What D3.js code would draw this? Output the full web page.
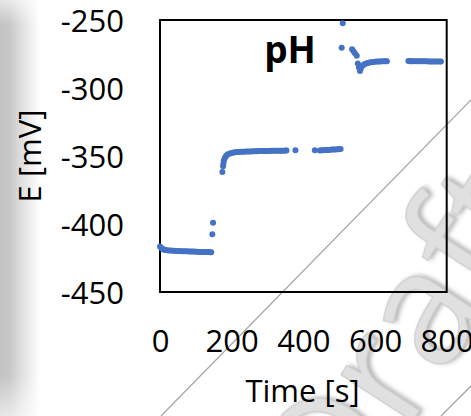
<!DOCTYPE html>
<html>
<head>
<meta charset="utf-8">
<script src="https://cdn.jsdelivr.net/npm/d3@7"></script>
<style>
  html, body { margin: 0; padding: 0; background: #fff; }
  svg { display: block; }
</style>
</head>
<body>
<svg id="chart" width="471" height="416"></svg>
<script>
// ---- data ----
const title = "pH";
const xLabel = "Time [s]";
const yLabel = "E [mV]";
const xTicks = [0, 200, 400, 600, 800];
const yTicks = [-250, -300, -350, -400, -450];

// phase 1: before first addition
const time1 = [0, 3, 6, 9, 12, 15, 20, 25, 30, 35, 40, 45, 50, 55, 60, 65, 70, 75, 80, 85, 90, 95, 100, 105, 110, 115, 120, 125, 130, 135, 140, 143, 146, 148];
const pot1  = [-416.5, -417.5, -418.2, -418.6, -418.9, -419.1, -419.3, -419.4, -419.5, -419.6, -419.7, -419.8, -419.8, -419.9, -420.0, -420.0, -420.1, -420.1, -420.2, -420.2, -420.3, -420.3, -420.4, -420.4, -420.5, -420.5, -420.5, -420.6, -420.6, -420.6, -420.7, -420.7, -407.6, -399.0];

// phase 2
const time2 = [174, 176, 177, 178, 180, 183, 186, 190, 195, 200, 205, 210, 215, 220, 225, 230, 235, 240, 245, 250, 255, 260, 265, 270, 275, 280, 285, 290, 295, 300, 305, 310, 315, 320, 325, 330, 335, 340, 345, 350, 353, 378, 432, 446, 450, 455, 460, 465, 470, 475, 480, 485, 490, 495, 500, 504];
const pot2  = [-361.8, -357.5, -355.5, -353.5, -352.0, -350.5, -349.5, -348.7, -348.2, -347.8, -347.5, -347.3, -347.1, -347.0, -346.9, -346.8, -346.8, -346.7, -346.7, -346.6, -346.6, -346.5, -346.5, -346.5, -346.4, -346.4, -346.4, -346.3, -346.3, -346.3, -346.3, -346.2, -346.2, -346.2, -346.2, -346.1, -346.1, -346.1, -346.1, -346.0, -346.0, -345.8, -345.7, -345.9, -345.8, -345.7, -345.6, -345.5, -345.5, -345.4, -345.3, -345.3, -345.2, -345.1, -345.0, -344.9];

// phase 3
const time3 = [507, 510, 536, 540, 544, 549, 552, 555, 558, 560, 563, 566, 570, 575, 580, 585, 590, 595, 600, 605, 610, 615, 620, 625, 630, 633, 693, 697, 700, 705, 710, 715, 720, 725, 730, 735, 740, 745, 750, 755, 760, 765, 770, 775, 780, 784];
const pot3  = [-270.4, -252.4, -271.5, -273.0, -274.5, -276.3, -282.0, -285.0, -287.5, -286.0, -284.0, -283.5, -282.5, -282.0, -281.6, -281.3, -281.0, -280.8, -280.7, -280.6, -280.5, -280.5, -280.4, -280.4, -280.3, -280.3, -280.2, -280.3, -280.3, -280.3, -280.3, -280.3, -280.3, -280.4, -280.4, -280.4, -280.4, -280.4, -280.5, -280.5, -280.5, -280.5, -280.5, -280.5, -280.6, -280.6];

const watermark = "Draft";

// ---- drawing ----
const svg = d3.select("#chart");
const W = 471, H = 416;
const plot = { left: 160, right: 446.7, top: 20, bottom: 292 };

const x = d3.scaleLinear().domain([0, 800]).range([plot.left, plot.right]);
const y = d3.scaleLinear().domain([-450, -250]).range([plot.bottom, plot.top]);

const defs = svg.append("defs");
const g1 = defs.append("linearGradient").attr("id", "leftband").attr("x1", 0).attr("x2", 1).attr("y1", 0).attr("y2", 0);
g1.append("stop").attr("offset", "0%").attr("stop-color", "#c2c2c2");
g1.append("stop").attr("offset", "25%").attr("stop-color", "#c8c8c8");
g1.append("stop").attr("offset", "50%").attr("stop-color", "#dcdcdc");
g1.append("stop").attr("offset", "75%").attr("stop-color", "#eeeeee");
g1.append("stop").attr("offset", "100%").attr("stop-color", "#ffffff");
const g2 = defs.append("linearGradient").attr("id", "vfade").attr("x1", 0).attr("x2", 0).attr("y1", 0).attr("y2", 1);
g2.append("stop").attr("offset", "0%").attr("stop-color", "#fff").attr("stop-opacity", 0.6);
g2.append("stop").attr("offset", "6%").attr("stop-color", "#fff").attr("stop-opacity", 0);
g2.append("stop").attr("offset", "90%").attr("stop-color", "#fff").attr("stop-opacity", 0);
g2.append("stop").attr("offset", "100%").attr("stop-color", "#fff").attr("stop-opacity", 0.6);
const sh = defs.append("filter").attr("id", "wmshadow").attr("x", "-20%").attr("y", "-20%").attr("width", "140%").attr("height", "140%");
sh.append("feDropShadow").attr("dx", 2.5).attr("dy", 2.5).attr("stdDeviation", 2).attr("flood-color", "#777").attr("flood-opacity", 0.55);

svg.append("rect").attr("x", 0).attr("y", 0).attr("width", W).attr("height", H).attr("fill", "#fff");
svg.append("rect").attr("x", 0).attr("y", 0).attr("width", 40).attr("height", H).attr("fill", "url(#leftband)");
svg.append("rect").attr("x", 0).attr("y", 0).attr("width", 40).attr("height", H).attr("fill", "url(#vfade)");

// watermark
svg.append("text")
  .attr("transform", "translate(342,530) rotate(-57)")
  .attr("font-family", "'Open Sans', sans-serif")
  .attr("font-weight", 400)
  .attr("font-size", 160)
  .attr("fill", "#e0e0e0")
  .attr("stroke", "#c8c8c8")
  .attr("stroke-width", 1)
  .attr("filter", "url(#wmshadow)")
  .text(watermark);

// diagonal guide lines
const diag = [[[569, 0], [161, 416]], [[501, 356], [441, 416]]];
svg.selectAll("line.diag").data(diag).join("line").attr("class", "diag")
  .attr("x1", d => d[0][0]).attr("y1", d => d[0][1])
  .attr("x2", d => d[1][0]).attr("y2", d => d[1][1])
  .attr("stroke", "#a6a6a6").attr("stroke-width", 1.3);

// frame
svg.append("rect")
  .attr("x", plot.left).attr("y", plot.top)
  .attr("width", plot.right - plot.left).attr("height", plot.bottom - plot.top)
  .attr("fill", "none").attr("stroke", "#000").attr("stroke-width", 2);

// axes (labels only)
const font = "'Open Sans', sans-serif";
const xAxis = svg.append("g").attr("transform", `translate(0,${plot.bottom})`)
  .call(d3.axisBottom(x).tickValues(xTicks).tickSize(0).tickPadding(0).tickFormat(d3.format("d")));
xAxis.select(".domain").remove();
xAxis.selectAll("text").attr("font-family", font).attr("font-size", 31).attr("fill", "#000")
  .attr("dy", null).attr("y", 60);

const yAxis = svg.append("g").attr("transform", `translate(${plot.left},0)`)
  .call(d3.axisLeft(y).tickValues(yTicks).tickSize(0).tickPadding(0).tickFormat(d => d3.format("d")(d).replace("−", "-")));
yAxis.select(".domain").remove();
yAxis.selectAll("text").attr("font-family", font).attr("font-size", 31).attr("fill", "#000")
  .attr("x", -36).attr("dy", "0.36em");

// axis titles
svg.append("text").attr("x", 302.5).attr("y", 402).attr("text-anchor", "middle")
  .attr("font-family", font).attr("font-size", 31).attr("fill", "#000").text(xLabel);
svg.append("text").attr("transform", "translate(41,156) rotate(-90)").attr("text-anchor", "middle")
  .attr("font-family", font).attr("font-size", 31).attr("fill", "#000").text(yLabel);

// title
svg.append("text").attr("x", 290).attr("y", 63).attr("text-anchor", "middle")
  .attr("font-family", font).attr("font-weight", "bold").attr("font-size", 37).attr("fill", "#000").text(title);

// points
const series = [
  d3.zip(time1, pot1),
  d3.zip(time2, pot2),
  d3.zip(time3, pot3)
].flat();
svg.append("g").selectAll("circle").data(series).join("circle")
  .attr("cx", d => x(d[0])).attr("cy", d => y(d[1])).attr("r", 3)
  .attr("fill", "#4472C4");
</script>
</body>
</html>
